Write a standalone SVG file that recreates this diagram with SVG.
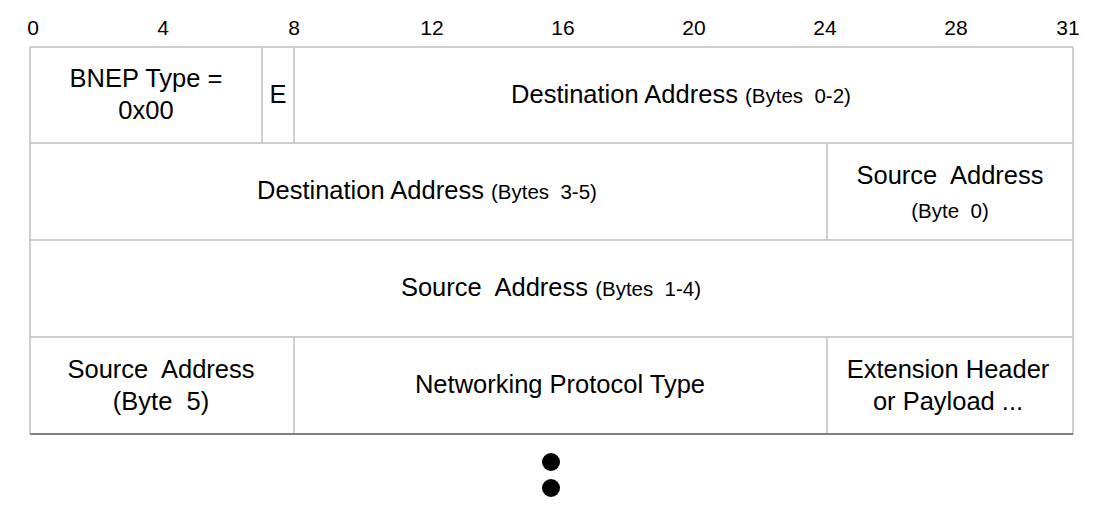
<svg xmlns="http://www.w3.org/2000/svg" width="1111" height="531" viewBox="0 0 1111 531">
<style>
text{font-family:"Liberation Sans",Arial,sans-serif;fill:#000;text-anchor:middle;white-space:pre}
.r{font-size:21px}
.m{font-size:25.5px}
.s{font-size:20.5px}
.g{stroke:#c0c0c0;stroke-width:1.5;fill:none}
.b{stroke:#808080;stroke-width:2;fill:none}
</style>
<rect width="1111" height="531" fill="#fff"/>
<g id="ruler">
<text class="r" x="33" y="35">0</text>
<text class="r" x="163" y="35">4</text>
<text class="r" x="294" y="35">8</text>
<text class="r" x="432" y="35">12</text>
<text class="r" x="563" y="35">16</text>
<text class="r" x="694" y="35">20</text>
<text class="r" x="825" y="35">24</text>
<text class="r" x="956" y="35">28</text>
<text class="r" x="1068" y="35">31</text>
</g>
<g id="grid">
<path class="g" d="M30,47H1073M30,143H1073M30,240H1073M30,337H1073M30,47V434M1073,47V434M262,47V143M294,47V143M827,143V240M294,337V434M827,337V434"/>
<path class="b" d="M30,434H1073"/>
</g>
<g id="bnep-type"><text class="m" x="146" y="87">BNEP Type =</text><text class="m" x="146" y="119">0x00</text></g>
<g id="e"><text class="m" x="278" y="103">E</text></g>
<g id="dst-0-2"><text class="m" x="681" y="103">Destination Address <tspan class="s">(Bytes  0-2)</tspan></text></g>
<g id="dst-3-5"><text class="m" x="427" y="199">Destination Address <tspan class="s">(Bytes  3-5)</tspan></text></g>
<g id="src-0"><text class="m" x="950" y="184">Source  Address</text><text class="s" x="950" y="218">(Byte  0)</text></g>
<g id="src-1-4"><text class="m" x="551" y="296">Source  Address <tspan class="s">(Bytes  1-4)</tspan></text></g>
<g id="src-5"><text class="m" x="161" y="378">Source  Address</text><text class="m" x="161" y="410">(Byte  5)</text></g>
<g id="proto"><text class="m" x="560" y="393">Networking Protocol Type</text></g>
<g id="ext"><text class="m" x="948" y="378">Extension Header</text><text class="m" x="948" y="410">or Payload ...</text></g>
<g id="dots"><circle cx="551" cy="462" r="9"/><circle cx="551" cy="488" r="9"/></g>
</svg>
